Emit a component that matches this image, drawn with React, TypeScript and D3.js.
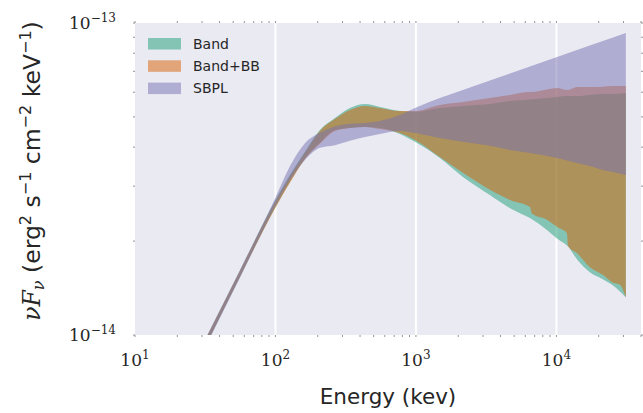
import React from "react";
import * as d3 from "d3";

// flux values in units of 1e-14 erg^2 s^-1 cm^-2 keV^-1 (nuFnu), energies in keV
const UNIT = 1e-14;

const seriesNames = ["Band", "Band+BB", "SBPL"];
const seriesColors = ["#1b9e77", "#d95f02", "#7570b3"];

const bandE = [30, 56, 99, 127, 162, 207, 265, 339, 434, 554, 769, 984, 1480, 2160, 3360, 4670, 6480, 8560, 10100, 12100, 14000, 17300, 21400, 25300, 31200];
const bandLo = [0.875, 1.54, 2.55, 3.1, 3.68, 4.13, 4.54, 4.61, 4.64, 4.61, 4.41, 4.16, 3.69, 3.21, 2.81, 2.55, 2.37, 2.17, 2.04, 1.92, 1.75, 1.59, 1.51, 1.44, 1.32];
const bandHi = [0.92, 1.61, 2.69, 3.27, 3.87, 4.54, 4.96, 5.34, 5.5, 5.38, 5.22, 5.19, 5.34, 5.42, 5.5, 5.62, 5.69, 5.75, 5.79, 5.83, 5.83, 5.88, 5.92, 5.92, 5.97];

const bbE = [30, 56, 99, 127, 162, 207, 265, 339, 434, 554, 769, 984, 1480, 2160, 3360, 4670, 6480, 6690, 8560, 10100, 11880, 12100, 14000, 17300, 21400, 25300, 28300, 31200];
const bbLo = [0.875, 1.54, 2.54, 3.08, 3.66, 4.1, 4.51, 4.61, 4.64, 4.57, 4.44, 4.22, 3.72, 3.31, 2.92, 2.71, 2.57, 2.45, 2.34, 2.22, 2.12, 1.93, 1.83, 1.65, 1.56, 1.47, 1.45, 1.32];
const bbHi = [0.92, 1.61, 2.67, 3.24, 3.84, 4.51, 4.92, 5.26, 5.42, 5.34, 5.22, 5.22, 5.46, 5.58, 5.75, 5.88, 6.01, 6.01, 6.12, 6.19, 6.1, 6.1, 6.23, 6.23, 6.25, 6.28, 6.28, 6.28];

const sbplE = [30, 56, 99, 127, 162, 207, 265, 339, 434, 554, 769, 984, 1480, 2160, 3360, 4670, 6480, 10100, 14000, 17300, 21400, 25300, 31200];
const sbplLo = [0.87, 1.53, 2.57, 3.14, 3.64, 3.98, 4.06, 4.19, 4.31, 4.41, 4.51, 4.44, 4.28, 4.16, 4.04, 3.92, 3.83, 3.69, 3.56, 3.48, 3.38, 3.33, 3.26];
const sbplHi = [0.925, 1.62, 2.73, 3.48, 4.12, 4.45, 4.66, 4.75, 4.78, 4.85, 5.07, 5.34, 5.75, 6.1, 6.54, 6.89, 7.25, 7.78, 8.19, 8.47, 8.76, 8.98, 9.29];

const xMajor = [10, 100, 1000, 10000];
const xMajorExp = ["1", "2", "3", "4"];
const yMajor = [1e-14, 1e-13];
const yMajorExp = ["−14", "−13"];

export default function App() {
  const W = 643, H = 413;
  const left = 135, right = 641, top = 23, bottom = 335;
  const x = d3.scaleLog().domain([10, 40000]).range([left, right]);
  const y = d3.scaleLog().domain([1e-14, 1e-13]).range([bottom, top]);

  const series = [
    { e: bandE, lo: bandLo, hi: bandHi },
    { e: bbE, lo: bbLo, hi: bbHi },
    { e: sbplE, lo: sbplLo, hi: sbplHi },
  ];
  const area = d3
    .area<{ e: number; lo: number; hi: number }>()
    .x((d) => x(d.e))
    .y0((d) => y(d.lo * UNIT))
    .y1((d) => y(d.hi * UNIT))
    .curve(d3.curveMonotoneX);

  const xMinor: number[] = [];
  for (let dec = 10; dec <= 10000; dec *= 10)
    for (let k = 2; k <= 9; k++) if (dec * k <= 40000) xMinor.push(dec * k);
  const yMinor: number[] = [];
  for (let k = 2; k <= 9; k++) yMinor.push(k * 1e-14);

  const tickColor = "#777";
  const sans = "'DejaVu Sans', sans-serif";
  const serif = "'DejaVu Serif', serif";

  return (
    <svg width={W} height={H} style={{ position: "absolute", left: 0, top: 0, background: "#fff" }}>
      <defs>
        <clipPath id="plotclip">
          <rect x={left} y={top} width={right - left} height={bottom - top} />
        </clipPath>
      </defs>
      <rect x={left} y={top} width={right - left} height={bottom - top} fill="#EAEAF2" />
      {xMajor.slice(1).map((v) => (
        <line key={v} x1={x(v)} x2={x(v)} y1={top} y2={bottom} stroke="#fff" strokeWidth={2} />
      ))}
      <g clipPath="url(#plotclip)">
        {series.map((s, i) => (
          <path
            key={i}
            d={area(s.e.map((e, j) => ({ e, lo: s.lo[j], hi: s.hi[j] }))) || ""}
            fill={seriesColors[i]}
            fillOpacity={0.5}
          />
        ))}
      </g>
      {/* ticks */}
      {[...xMinor, ...xMajor].map((v) => (
        <g key={"xt" + v}>
          <line x1={x(v)} x2={x(v)} y1={bottom} y2={bottom + 2} stroke={tickColor} strokeWidth={0.8} />
          <line x1={x(v)} x2={x(v)} y1={top} y2={top - 2} stroke={tickColor} strokeWidth={0.8} />
        </g>
      ))}
      {[...yMinor, ...yMajor].map((v) => (
        <g key={"yt" + v}>
          <line x1={left - 2} x2={left} y1={y(v)} y2={y(v)} stroke={tickColor} strokeWidth={0.8} />
          <line x1={right} x2={right + 2} y1={y(v)} y2={y(v)} stroke={tickColor} strokeWidth={0.8} />
        </g>
      ))}
      {/* x tick labels */}
      {xMajor.map((v, i) => (
        <text key={"xl" + v} x={x(v)} y={366} textAnchor="middle" fontFamily={serif} fontSize={17} fill="#262626">
          10
          <tspan fontSize={12} dy={-7}>{xMajorExp[i]}</tspan>
        </text>
      ))}
      {/* y tick labels */}
      {yMajor.map((v, i) => (
        <text key={"yl" + v} x={116} y={y(v) + 6} textAnchor="end" fontFamily={serif} fontSize={17} fill="#262626">
          10
          <tspan fontSize={12} dy={-7}>{yMajorExp[i]}</tspan>
        </text>
      ))}
      {/* legend */}
      {seriesNames.map((name, i) => (
        <g key={name} transform={`translate(148, ${38 + i * 22.3})`}>
          <rect x={0} y={0} width={33} height={11.5} fill={seriesColors[i]} fillOpacity={0.5} />
          <text x={45} y={10.5} fontFamily={sans} fontSize={14} fill="#262626">
            {name}
          </text>
        </g>
      ))}
      {/* x axis label */}
      <text x={(left + right) / 2} y={404} textAnchor="middle" fontFamily={sans} fontSize={21.5} fill="#262626">
        Energy (kev)
      </text>
      {/* y axis label */}
      <text transform="translate(40, 171) rotate(-90)" textAnchor="middle" fontFamily={sans} fontSize={23.5} fill="#262626">
        <tspan fontFamily={serif} fontStyle="italic">νF</tspan>
        <tspan fontFamily={serif} fontStyle="italic" fontSize={16} dy={4}>ν</tspan>
        <tspan dy={-4}>{"  (erg"}</tspan>
        <tspan fontSize={16} dy={-9}>2</tspan>
        <tspan dy={9}>{" s"}</tspan>
        <tspan fontSize={16} dy={-9}>−1</tspan>
        <tspan dy={9}>{" cm"}</tspan>
        <tspan fontSize={16} dy={-9}>−2</tspan>
        <tspan dy={9}>{" keV"}</tspan>
        <tspan fontSize={16} dy={-9}>−1</tspan>
        <tspan dy={9}>)</tspan>
      </text>
    </svg>
  );
}
